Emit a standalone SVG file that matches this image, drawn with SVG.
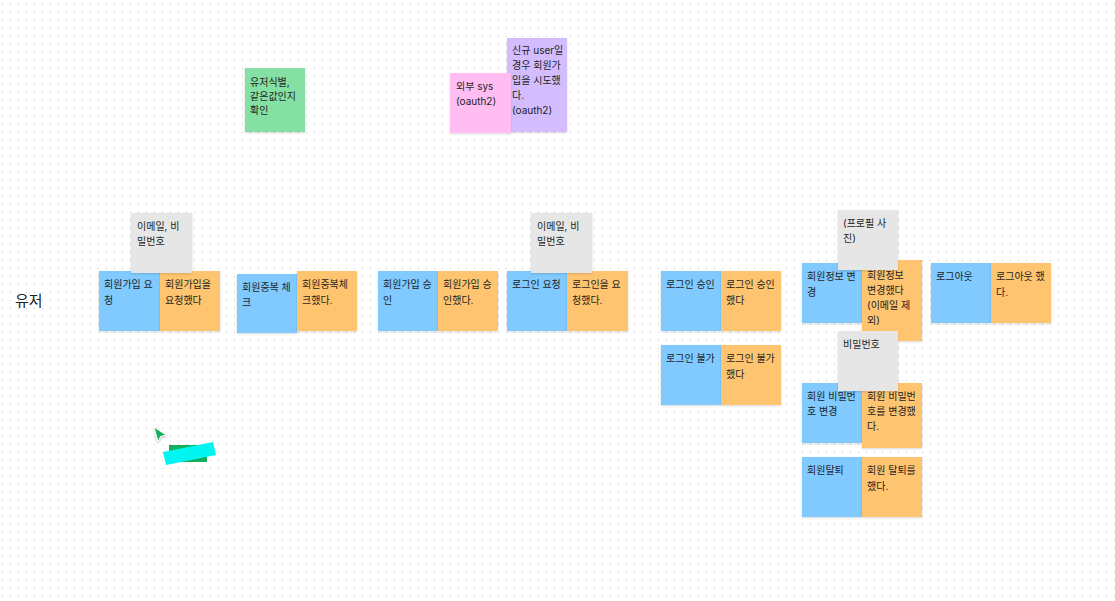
<svg xmlns="http://www.w3.org/2000/svg" width="1115" height="601" viewBox="0 0 1115 601">
<defs>
<pattern id="dots" patternUnits="userSpaceOnUse" x="0" y="0" width="8" height="8">
<rect x="2" y="4" width="1" height="1" fill="#c4c4c4"/>
</pattern>
<filter id="sh" x="-10%" y="-10%" width="130%" height="130%">
<feDropShadow dx="0" dy="1" stdDeviation="1" flood-color="#000" flood-opacity="0.15"/>
</filter>
<filter id="sh2" x="-30%" y="-30%" width="160%" height="160%">
<feDropShadow dx="0" dy="1" stdDeviation="1" flood-color="#000" flood-opacity="0.3"/>
</filter>
</defs>
<style>
.s{filter:url(#sh);}
.blue{fill:#80caff;}
.orange{fill:#ffc470;}
.gray{fill:#e6e6e6;}
.green{fill:#85e0a3;}
.pink{fill:#ffbdf2;}
.violet{fill:#d3bdff;}
text{font-family:"Inter","Noto Sans CJK KR","Noto Sans",sans-serif;font-size:10px;fill:#1e1e1e;}
.lbl{font-size:15px;}
</style>
<rect width="1115" height="601" fill="#ffffff"/>
<rect width="1115" height="601" fill="url(#dots)"/>

<g id="connectors"></g>

<g id="actor-user"><text class="lbl" x="15" y="306">유저</text></g>

<g id="n-green-identify"><rect class="s green" x="245" y="68" width="60" height="64"/>
<text x="250" y="86">유저식별,</text><text x="250" y="100">같은값인지</text><text x="250" y="114">확인</text></g>

<g id="n-violet-newuser"><rect class="s violet" x="507" y="38" width="60" height="94"/>
<text x="512" y="54">신규 user일</text><text x="512" y="69">경우 회원가</text><text x="512" y="84">입을 시도했</text><text x="512" y="99">다.</text><text x="512" y="114">(oauth2)</text></g>

<g id="n-pink-external"><rect class="s pink" x="450" y="73" width="61" height="60"/>
<text x="456" y="90">외부 sys</text><text x="456" y="105">(oauth2)</text></g>

<g id="n-signup-req"><rect class="s blue" x="99" y="271" width="61" height="60"/>
<text x="104" y="288">회원가입 요</text><text x="104" y="304">청</text></g>
<g id="n-signup-req-ev"><rect class="s orange" x="160" y="271" width="60" height="60"/>
<text x="165" y="288">회원가입을</text><text x="165" y="304">요청했다</text></g>
<g id="n-gray-email1"><rect class="s gray" x="131" y="213" width="61" height="60"/>
<text x="137" y="230">이메일, 비</text><text x="137" y="245">밀번호</text></g>

<g id="n-dup-check"><rect class="s blue" x="237" y="274" width="60" height="59"/>
<text x="242" y="291">회원중복 체</text><text x="242" y="306">크</text></g>
<g id="n-dup-check-ev"><rect class="s orange" x="297" y="271" width="60" height="60"/>
<text x="302" y="288">회원중복체</text><text x="302" y="304">크했다.</text></g>

<g id="n-signup-ok"><rect class="s blue" x="378" y="271" width="60" height="60"/>
<text x="383" y="288">회원가입 승</text><text x="383" y="304">인</text></g>
<g id="n-signup-ok-ev"><rect class="s orange" x="438" y="271" width="60" height="60"/>
<text x="443" y="288">회원가입 승</text><text x="443" y="304">인했다.</text></g>

<g id="n-login-req"><rect class="s blue" x="507" y="271" width="60" height="60"/>
<text x="512" y="288">로그인 요청</text></g>
<g id="n-login-req-ev"><rect class="s orange" x="567" y="271" width="61" height="60"/>
<text x="572" y="288">로그인을 요</text><text x="572" y="304">청했다.</text></g>
<g id="n-gray-email2"><rect class="s gray" x="531" y="213" width="61" height="60"/>
<text x="537" y="230">이메일, 비</text><text x="537" y="245">밀번호</text></g>

<g id="n-login-ok"><rect class="s blue" x="661" y="271" width="60" height="60"/>
<text x="666" y="288">로그인 승인</text></g>
<g id="n-login-ok-ev"><rect class="s orange" x="721" y="271" width="60" height="60"/>
<text x="726" y="288">로그인 승인</text><text x="726" y="304">했다</text></g>

<g id="n-login-fail"><rect class="s blue" x="661" y="345" width="60" height="60"/>
<text x="666" y="362">로그인 불가</text></g>
<g id="n-login-fail-ev"><rect class="s orange" x="721" y="345" width="60" height="60"/>
<text x="726" y="362">로그인 불가</text><text x="726" y="378">했다</text></g>

<g id="n-profile-edit"><rect class="s blue" x="802" y="263" width="60" height="60"/>
<text x="807" y="280">회원정보 변</text><text x="807" y="296">경</text></g>
<g id="n-profile-edit-ev"><rect class="s orange" x="862" y="260" width="60" height="81"/>
<text x="867" y="279">회원정보</text><text x="867" y="294">변경했다</text><text x="867" y="309">(이메일 제</text><text x="867" y="324">외)</text></g>
<g id="n-gray-photo"><rect class="s gray" x="838" y="210" width="60" height="60"/>
<text x="843" y="227">(프로필 사</text><text x="843" y="242">진)</text></g>

<g id="n-logout"><rect class="s blue" x="931" y="263" width="60" height="60"/>
<text x="936" y="280">로그아웃</text></g>
<g id="n-logout-ev"><rect class="s orange" x="991" y="263" width="60" height="60"/>
<text x="996" y="280">로그아웃 했</text><text x="996" y="296">다.</text></g>

<g id="n-pw-change"><rect class="s blue" x="802" y="383" width="60" height="60"/>
<text x="807" y="400">회원 비밀번</text><text x="807" y="415">호 변경</text></g>
<g id="n-pw-change-ev"><rect class="s orange" x="862" y="383" width="60" height="65"/>
<text x="867" y="400">회원 비밀번</text><text x="867" y="415">호를 변경했</text><text x="867" y="430">다.</text></g>
<g id="n-gray-pw"><rect class="s gray" x="838" y="331" width="60" height="60"/>
<text x="843" y="348">비밀번호</text></g>

<g id="n-withdraw"><rect class="s blue" x="802" y="457" width="60" height="60"/>
<text x="807" y="474">회원탈퇴</text></g>
<g id="n-withdraw-ev"><rect class="s orange" x="862" y="457" width="60" height="60"/>
<text x="867" y="474">회원 탈퇴를</text><text x="867" y="490">했다.</text></g>

<g id="cursor"><path d="M154,427 L166,435 L160.5,436.5 L158,442 Z" fill="#14ae5c" stroke="#ffffff" stroke-width="1" stroke-linejoin="round" filter="url(#sh2)"/></g>
<g id="shape-stamp">
<rect x="169" y="445" width="38" height="17" fill="#14ae5c"/>
<polygon points="163,452 213,442 216,455 166,465" fill="#00f5f0"/>
</g>
</svg>
